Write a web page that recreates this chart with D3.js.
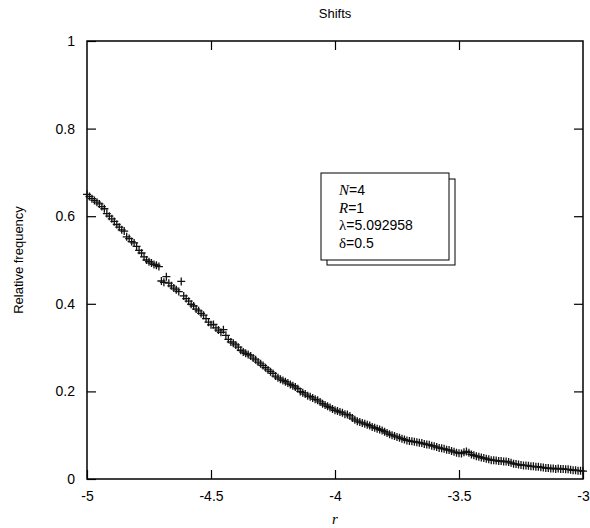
<!DOCTYPE html>
<html>
<head>
<meta charset="utf-8">
<script src="https://cdn.jsdelivr.net/npm/d3@7"></script>
<style>
  body { margin: 0; background: #fff; }
  svg { display: block; }
</style>
</head>
<body>
<script>
// r values (x axis)
const rValues = [
  -5.00,-4.99,-4.98,-4.97,-4.96,-4.95,-4.94,-4.93,-4.92,-4.91,
  -4.90,-4.89,-4.88,-4.87,-4.86,-4.85,-4.84,-4.83,-4.82,-4.81,
  -4.80,-4.79,-4.78,-4.77,-4.76,-4.75,-4.74,-4.73,-4.72,-4.71,
  -4.70,-4.69,-4.68,-4.67,-4.66,-4.65,-4.64,-4.63,-4.62,-4.61,
  -4.60,-4.59,-4.58,-4.57,-4.56,-4.55,-4.54,-4.53,-4.52,-4.51,
  -4.50,-4.49,-4.48,-4.47,-4.46,-4.45,-4.44,-4.43,-4.42,-4.41,
  -4.40,-4.39,-4.38,-4.37,-4.36,-4.35,-4.34,-4.33,-4.32,-4.31,
  -4.30,-4.29,-4.28,-4.27,-4.26,-4.25,-4.24,-4.23,-4.22,-4.21,
  -4.20,-4.19,-4.18,-4.17,-4.16,-4.15,-4.14,-4.13,-4.12,-4.11,
  -4.10,-4.09,-4.08,-4.07,-4.06,-4.05,-4.04,-4.03,-4.02,-4.01,
  -4.00,-3.99,-3.98,-3.97,-3.96,-3.95,-3.94,-3.93,-3.92,-3.91,
  -3.90,-3.89,-3.88,-3.87,-3.86,-3.85,-3.84,-3.83,-3.82,-3.81,
  -3.80,-3.79,-3.78,-3.77,-3.76,-3.75,-3.74,-3.73,-3.72,-3.71,
  -3.70,-3.69,-3.68,-3.67,-3.66,-3.65,-3.64,-3.63,-3.62,-3.61,
  -3.60,-3.59,-3.58,-3.57,-3.56,-3.55,-3.54,-3.53,-3.52,-3.51,
  -3.50,-3.49,-3.48,-3.47,-3.46,-3.45,-3.44,-3.43,-3.42,-3.41,
  -3.40,-3.39,-3.38,-3.37,-3.36,-3.35,-3.34,-3.33,-3.32,-3.31,
  -3.30,-3.29,-3.28,-3.27,-3.26,-3.25,-3.24,-3.23,-3.22,-3.21,
  -3.20,-3.19,-3.18,-3.17,-3.16,-3.15,-3.14,-3.13,-3.12,-3.11,
  -3.10,-3.09,-3.08,-3.07,-3.06,-3.05,-3.04,-3.03,-3.02,-3.01,
  -3.00
];

// relative frequency
const freqValues = [
  0.650,0.645,0.640,0.636,0.632,0.628,0.622,0.617,0.606,0.600,
  0.594,0.588,0.581,0.575,0.569,0.566,0.553,0.549,0.542,0.539,
  0.531,0.522,0.516,0.507,0.500,0.496,0.493,0.490,0.488,0.485,
  0.452,0.449,0.462,0.447,0.441,0.436,0.432,0.428,0.451,0.418,
  0.412,0.406,0.399,0.395,0.388,0.384,0.378,0.374,0.366,0.358,
  0.352,0.353,0.345,0.340,0.335,0.341,0.328,0.319,0.313,0.310,
  0.306,0.301,0.294,0.290,0.287,0.284,0.281,0.276,0.272,0.267,
  0.263,0.259,0.254,0.249,0.245,0.241,0.235,0.231,0.228,0.225,
  0.222,0.219,0.216,0.213,0.210,0.206,0.200,0.197,0.194,0.190,
  0.188,0.185,0.182,0.180,0.176,0.172,0.169,0.166,0.163,0.160,
  0.157,0.155,0.153,0.151,0.148,0.147,0.144,0.139,0.135,0.132,
  0.130,0.128,0.126,0.124,0.122,0.119,0.117,0.115,0.113,0.111,
  0.108,0.105,0.102,0.100,0.098,0.096,0.094,0.092,0.090,0.088,
  0.087,0.086,0.085,0.084,0.083,0.082,0.080,0.079,0.078,0.076,
  0.075,0.073,0.071,0.070,0.069,0.067,0.066,0.064,0.062,0.060,
  0.059,0.058,0.061,0.063,0.060,0.056,0.054,0.052,0.051,0.049,
  0.048,0.046,0.045,0.043,0.043,0.042,0.041,0.041,0.040,0.040,
  0.039,0.037,0.035,0.034,0.033,0.032,0.031,0.031,0.030,0.029,
  0.029,0.028,0.028,0.027,0.026,0.025,0.025,0.024,0.024,0.023,
  0.024,0.023,0.023,0.022,0.022,0.021,0.020,0.020,0.019,0.019,
  0.018
];

const xTicks = [-5, -4.5, -4, -3.5, -3];
const yTicks = [0, 0.2, 0.4, 0.6, 0.8, 1];

const W = 590, H = 528;
const plotLeft = 87, plotRight = 583, plotTop = 41, plotBottom = 479;

const svg = d3.select("body").append("svg").attr("width", W).attr("height", H);

const x = d3.scaleLinear().domain([-5, -3]).range([plotLeft, plotRight]);
const y = d3.scaleLinear().domain([0, 1]).range([plotBottom, plotTop]);

const sans = "'Liberation Sans', Arial, sans-serif";
const serif = "'Liberation Serif', 'Times New Roman', serif";
const plain = d => String(d);   // keep ASCII hyphen like the original

// axes with inward ticks, mirrored
svg.append("g").attr("transform", `translate(0,${plotBottom})`)
  .call(d3.axisBottom(x).tickValues(xTicks).tickSize(-9).tickPadding(12).tickFormat(plain))
  .call(g => g.select(".domain").remove());
svg.append("g").attr("transform", `translate(0,${plotTop})`)
  .call(d3.axisTop(x).tickValues(xTicks.slice(1, -1)).tickSize(-9).tickFormat(""))
  .call(g => g.select(".domain").remove());
svg.append("g").attr("transform", `translate(${plotLeft},0)`)
  .call(d3.axisLeft(y).tickValues(yTicks).tickSize(-9).tickPadding(12).tickFormat(plain))
  .call(g => g.select(".domain").remove());
svg.append("g").attr("transform", `translate(${plotRight},0)`)
  .call(d3.axisRight(y).tickValues(yTicks.slice(1, -1)).tickSize(-9).tickFormat(""))
  .call(g => g.select(".domain").remove());

svg.selectAll(".tick line").attr("stroke", "#000").attr("stroke-width", 1.2);
svg.selectAll(".tick text").attr("font-family", sans).attr("font-size", 14).attr("fill", "#000");

// frame
svg.append("rect")
  .attr("x", plotLeft).attr("y", plotTop)
  .attr("width", plotRight - plotLeft).attr("height", plotBottom - plotTop)
  .attr("fill", "none").attr("stroke", "#000").attr("stroke-width", 1.5);

// data points as "+" markers
svg.append("g").selectAll("path")
  .data(rValues.map((r, i) => [r, freqValues[i]]))
  .enter().append("path")
  .attr("transform", d => `translate(${x(d[0])},${y(d[1])})`)
  .attr("d", "M-4,0H4M0,-4V4")
  .attr("stroke", "#111")
  .attr("stroke-width", 1.3)
  .attr("fill", "none");

// title and axis labels
svg.append("text").attr("x", (plotLeft + plotRight) / 2).attr("y", 18)
  .attr("text-anchor", "middle").attr("font-family", sans).attr("font-size", 13)
  .text("Shifts");

svg.append("text").attr("transform", `translate(23,${(plotTop + plotBottom) / 2}) rotate(-90)`)
  .attr("text-anchor", "middle").attr("font-family", sans).attr("font-size", 13)
  .text("Relative frequency");

svg.append("text").attr("x", (plotLeft + plotRight) / 2).attr("y", 524)
  .attr("text-anchor", "middle").attr("font-family", serif).attr("font-style", "italic")
  .attr("font-size", 15).text("r");

// parameter box with shadow
const box = svg.append("g");
box.append("rect").attr("x", 327).attr("y", 179).attr("width", 128).attr("height", 86)
  .attr("fill", "#fff").attr("stroke", "#000").attr("stroke-width", 1);
box.append("rect").attr("x", 321).attr("y", 173).attr("width", 128).attr("height", 87)
  .attr("fill", "#fff").attr("stroke", "#000").attr("stroke-width", 1);

const params = [
  { sym: "N", italic: true, val: "=4" },
  { sym: "R", italic: true, val: "=1" },
  { sym: "λ", italic: false, val: "=5.092958" },
  { sym: "δ", italic: false, val: "=0.5" }
];
params.forEach((p, i) => {
  const t = box.append("text").attr("x", 339).attr("y", 195 + i * 17.5)
    .attr("font-size", 15).attr("fill", "#000");
  t.append("tspan").attr("font-family", serif).attr("font-style", p.italic ? "italic" : "normal").text(p.sym);
  t.append("tspan").attr("font-family", sans).attr("font-size", 14).text(p.val);
});
</script>
</body>
</html>
